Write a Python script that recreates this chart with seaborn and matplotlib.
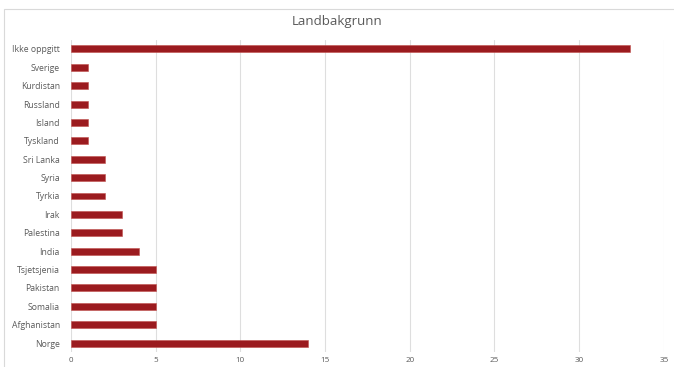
import matplotlib
matplotlib.use("Agg")
import matplotlib.pyplot as plt
from matplotlib.patches import Rectangle
import seaborn as sns
import pandas as pd

countries = ["Ikke oppgitt", "Sverige", "Kurdistan", "Russland", "Island", "Tyskland",
             "Sri Lanka", "Syria", "Tyrkia", "Irak", "Palestina", "India",
             "Tsjetsjenia", "Pakistan", "Somalia", "Afghanistan", "Norge"]
counts = [33, 1, 1, 1, 1, 1, 2, 2, 2, 3, 3, 4, 5, 5, 5, 5, 14]
xticks = [0, 5, 10, 15, 20, 25, 30, 35]

df = pd.DataFrame({"land": countries, "antall": counts})

sns.set_theme(style="white")
plt.rcParams["font.family"] = ["Open Sans", "DejaVu Sans"]

fig = plt.figure(figsize=(6.74, 3.67), dpi=100)
ax = fig.add_axes([0.1053, 0.0403, 0.8797, 0.8513])

# outer chart frame
fig.patches.append(Rectangle((4 / 674, -0.01), 1.0, 1 - 9 / 367 + 0.01,
                             transform=fig.transFigure, fill=False,
                             edgecolor="#d9d9d9", linewidth=0.8, zorder=0))

sns.barplot(data=df, y="land", x="antall", orient="h", ax=ax,
            color="#9b1b1f", saturation=1, width=0.38,
            edgecolor="#c0504d", linewidth=0.4, zorder=3)

ax.set_xlim(0, 35)
ax.set_xticks(xticks)
ax.set_xticklabels([str(t) for t in xticks])
ax.grid(axis="x", color="#dedede", linewidth=0.8, zorder=0)
ax.set_axisbelow(True)
for s in ax.spines.values():
    s.set_visible(False)
ax.set_xlabel("")
ax.set_ylabel("")
ax.tick_params(axis="both", length=0, labelsize=5.8, colors="#595959")
ax.tick_params(axis="x", pad=3.5)
ax.tick_params(axis="y", pad=8, labelsize=6.2)

fig.text(0.5, 1 - 22 / 367, "Landbakgrunn", ha="center", va="center",
         fontsize=9.5, color="#595959")

fig.savefig("out.png", dpi=100)
